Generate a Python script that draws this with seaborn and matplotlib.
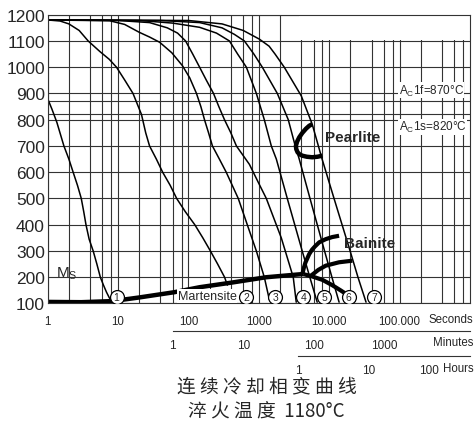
import numpy as np
import pandas as pd
import seaborn as sns
import matplotlib
matplotlib.use('Agg')
import matplotlib.pyplot as plt
from matplotlib.patches import Rectangle
from matplotlib.ticker import FixedLocator, LogLocator, NullFormatter, NullLocator

# cooling curves: time in seconds, temperature in degC
c1_t = [1, 1.15, 1.35, 1.7, 2.0, 2.3, 2.65, 3.0, 3.25, 3.5, 3.88, 4.43, 5.0, 5.6, 6.2, 6.85, 7.5, 8.05]
c1_T = [880, 840, 790, 700, 650, 600, 550, 500, 450, 400, 345, 300, 250, 200, 170, 143, 122, 110]
c2_t = [1, 1.5, 2, 2.8, 3.76, 5.5, 7.5, 9.5, 12.5, 16.3, 21.5, 24.7, 28, 35, 43, 55, 68,
        90, 123, 160, 205, 260, 326, 357]
c2_T = [1180, 1176, 1165, 1140, 1100, 1060, 1030, 1000, 950, 900, 820, 750, 700, 650, 600,
        550, 500, 450, 400, 350, 300, 250, 200, 170]
c3_t = [1, 7.6, 12.4, 20, 28, 39, 58, 82, 104, 130, 150, 169, 193, 219, 275, 344, 419, 510,
        685, 922, 1196, 1408]
c3_T = [1180, 1177, 1163, 1133, 1115, 1095, 1055, 1006, 960, 900, 850, 800, 750, 700, 650,
        600, 550, 500, 400, 300, 200, 115]
c4_t = [1, 10, 28, 50, 70, 91, 115, 144, 180, 227, 270, 325, 400, 480, 734, 1000, 1277,
        2083, 3081, 3397]
c4_T = [1180, 1178, 1170, 1150, 1130, 1100, 1050, 1000, 950, 900, 850, 800, 750, 700, 630,
        557, 500, 350, 200, 105]
c5_t = [1, 20, 60, 144, 250, 382, 500, 665, 922, 1196, 1503, 1772, 2535, 4130, 5300, 6743]
c5_T = [1180, 1178, 1168, 1152, 1130, 1100, 1050, 1000, 900, 800, 700, 650, 500, 300, 200, 105]
c6_t = [1, 40, 144, 300, 450, 623, 850, 1120, 1830, 2618, 3289, 3748, 5330, 8580, 10920, 13810]
c6_T = [1180, 1178, 1170, 1150, 1125, 1100, 1050, 1000, 900, 800, 700, 650, 500, 300, 200, 105]
c7_t = [1, 100, 300, 600, 1016, 1400, 1700, 2296, 4003, 5728, 7937, 11700, 19800, 25600, 33340]
c7_T = [1180, 1178, 1165, 1140, 1107, 1080, 1050, 1000, 891, 783, 649, 500, 300, 200, 105]

# transformation lines
ms_t = [1, 3, 8, 10, 20, 63, 144, 420, 1270, 3750, 4300]
ms_T = [106, 105, 109, 112, 123, 143, 162, 180, 200, 211, 212]
low_t = [4300, 5730, 8000, 11000, 14500, 17200]
low_T = [212, 203, 190, 170, 150, 137]
bain1_t = [4150, 4350, 4590, 5190, 5700, 6250, 7200, 8900, 11000, 13800]
bain1_T = [212, 235, 256, 288, 305, 317, 333, 345, 353, 358]
bain2_t = [5450, 7000, 8900, 13800, 21300]
bain2_T = [205, 228, 244, 257, 263]
pear_t = [5730, 5200, 4680, 4150, 3750, 3500, 3360, 3400, 3550, 3800, 4150, 4800, 5730, 6800, 8000]
pear_T = [783, 777, 766, 750, 733, 717, 701, 688, 676, 668, 663, 659, 657, 659, 663]

circ_t = [9.5, 665, 1710, 4270, 8500, 19000, 43000]
circ_T = [126, 126, 126, 126, 126, 126, 126]
circ_lab = ['1', '2', '3', '4', '5', '6', '7']

sec_ticks = [1, 10, 100, 1000, 10000, 100000]
sec_labels = ['1', '10', '100', '1000', '10.000', '100.000']
min_ticks = [60, 600, 6000, 60000, 600000]
min_labels = ['1', '10', '100', '1000', '']
hour_ticks = [3600, 36000, 360000]
hour_labels = ['1', '10', '100']
temp_ticks = list(range(100, 1300, 100))
ac_lines = [870, 820]

curves = pd.concat([
    pd.DataFrame({'t': t, 'T': T, 'curve': i})
    for i, (t, T) in enumerate([(c1_t, c1_T), (c2_t, c2_T), (c3_t, c3_T), (c4_t, c4_T),
                                (c5_t, c5_T), (c6_t, c6_T), (c7_t, c7_T)])
])

sns.set_style('white')
plt.rcParams['font.family'] = ['Liberation Sans', 'DejaVu Sans']
grid_c = '#333333'

fig = plt.figure(figsize=(4.75, 4.27), dpi=100)
ax = fig.add_axes([0.1004, 0.2869, 0.8891, 0.6763])

sns.lineplot(data=curves, x='t', y='T', units='curve', estimator=None, sort=False,
             color='black', lw=1.1, ax=ax, legend=False)
for t, T, w in [(ms_t, ms_T, 3.2), (low_t, low_T, 3.0), (bain1_t, bain1_T, 3.0),
                (bain2_t, bain2_T, 3.0), (pear_t, pear_T, 3.2)]:
    sns.lineplot(x=t, y=T, sort=False, estimator=None, color='black', lw=w, ax=ax,
                 solid_capstyle='butt', solid_joinstyle='round')

ax.set_xscale('log')
ax.set_xlim(1, 1e6)
ax.set_ylim(100, 1200)
ax.set_xlabel('')
ax.set_ylabel('')
ax.xaxis.set_major_locator(FixedLocator(sec_ticks))
ax.set_xticklabels(sec_labels)
ax.xaxis.set_minor_locator(LogLocator(base=10, subs=[2, 4, 6, 8]))
ax.xaxis.set_minor_formatter(NullFormatter())
ax.set_yticks(temp_ticks)
ax.grid(which='both', color=grid_c, lw=0.8)
for v in ac_lines:
    ax.axhline(v, color=grid_c, lw=0.8, zorder=0.6)
for s in ax.spines.values():
    s.set_color(grid_c)
    s.set_linewidth(0.8)
ax.tick_params(axis='both', which='both', length=0)
ax.tick_params(axis='x', labelsize=8.3, pad=8)
ax.tick_params(axis='y', labelsize=12.5, pad=2)

# empty box at upper right
ax.add_patch(Rectangle((3700, 1102), 1e6 - 3700, 98, facecolor='white',
                       edgecolor='none', zorder=1))

ax.scatter(circ_t, circ_T, s=100, facecolor='white', edgecolor='black', lw=0.9, zorder=5)
for t, T, lab in zip(circ_t, circ_T, circ_lab):
    ax.text(t, T, lab, ha='center', va='center', fontsize=7.5, zorder=6)

box = dict(facecolor='white', edgecolor='none', pad=0.5)
ax.text(70, 128, 'Martensite', ha='left', va='center', fontsize=9, bbox=box, zorder=4)
ax.text(1.3, 218, r'M$_\mathregular{S}$', ha='left', va='center', fontsize=11)
ax.text(8800, 734, 'Pearlite', ha='left', va='center', fontsize=11, fontweight='bold')
ax.text(16300, 330, 'Bainite', ha='left', va='center', fontsize=11, fontweight='bold')
ax.text(8.2e5, 912, r'A$_\mathregular{C}$1f=870°C', ha='right', va='center', fontsize=8.5,
        bbox=dict(facecolor='white', edgecolor='none', pad=0.3), zorder=3)
ax.text(9e5, 774, r'A$_\mathregular{C}$1s=820°C', ha='right', va='center', fontsize=8.5,
        bbox=dict(facecolor='white', edgecolor='none', pad=0.3), zorder=3)


def time_axis(ypos, ticks, labels, start, pad=2):
    a = fig.add_axes([0.1004, ypos, 0.8891, 0.0001])
    a.set_xscale('log')
    a.set_xlim(1, 1e6)
    a.patch.set_visible(False)
    for s in ['top', 'left', 'right']:
        a.spines[s].set_visible(False)
    a.spines['bottom'].set_bounds(start, 1e6)
    a.spines['bottom'].set_color(grid_c)
    a.spines['bottom'].set_linewidth(0.8)
    a.set_yticks([])
    a.xaxis.set_major_locator(FixedLocator(ticks))
    a.set_xticklabels(labels)
    a.xaxis.set_minor_locator(NullLocator())
    a.tick_params(axis='x', direction='out', length=4, width=0.8, color=grid_c,
                  pad=pad, labelsize=8.5)
    return a


time_axis(1 - 331.7 / 427, min_ticks, min_labels, 60)
hax = time_axis(1 - 357 / 427, hour_ticks, hour_labels, 3600, pad=1.5)
hax.get_xticklabels()[-1].set_horizontalalignment('right')

fig.text(473 / 475, 1 - 320 / 427, 'Seconds', ha='right', va='center', fontsize=8.3)
fig.text(473 / 475, 1 - 343 / 427, 'Minutes', ha='right', va='center', fontsize=8.3)
fig.text(474 / 475, 1 - 369 / 427, 'Hours', ha='right', va='center', fontsize=8.3)

cjk = ['Noto Sans CJK SC', 'DejaVu Sans']
fig.text(266.5 / 475, 1 - 387 / 427, '连 续 冷 却 相 变 曲 线', ha='center', va='center',
         fontsize=13.5, family=cjk)
fig.text(266.5 / 475, 1 - 412 / 427, '淬 火 温 度  1180°C', ha='center', va='center',
         fontsize=13.5, family=cjk)

fig.savefig('out.png', dpi=100)
